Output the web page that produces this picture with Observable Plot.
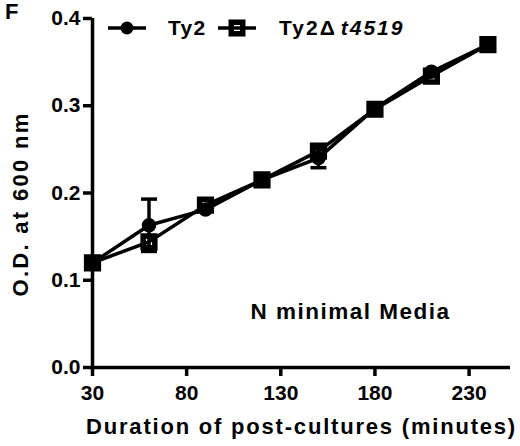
<!DOCTYPE html>
<html><head><meta charset="utf-8">
<script src="https://cdn.jsdelivr.net/npm/d3@7"></script>
<script src="https://cdn.jsdelivr.net/npm/@observablehq/plot@0.6"></script>
<style>
html,body{margin:0;padding:0;background:#fff;}
#wrap{position:relative;width:520px;height:446px;font-family:"Liberation Sans",Arial,sans-serif;font-weight:bold;color:#000;}
#panel{position:absolute;left:5px;top:0px;font-size:22px;line-height:24px;}
.lg{position:absolute;font-size:21px;line-height:24px;letter-spacing:1.3px;white-space:nowrap;}
.lg svg{display:block}
</style>
</head><body>
<div id="wrap">
<div id="chart"></div>
<div id="panel">F</div>
</div>
<script>
const minutes = [30, 60, 90, 120, 150, 180, 210, 240];
const ty2 = [0.120, 0.163, 0.181, 0.215, 0.240, 0.297, 0.339, 0.370];
const ty2Err = [0, 0.030, 0, 0, 0.011, 0, 0, 0];
const mutant = [0.120, 0.144, 0.186, 0.215, 0.248, 0.296, 0.334, 0.370];
const xTicks = [30, 80, 130, 180, 230];
const yTicks = [0.0, 0.1, 0.2, 0.3, 0.4];
const seriesNames = ["Ty2", "Ty2\u0394", "t4519"];
const xTitle = "Duration of post-cultures (minutes)";
const yTitle = "O.D. at 600 nm";
const annotation = "N minimal Media";

const rowsA = minutes.map((m, i) => ({x: m, y: ty2[i], e: ty2Err[i]}));
const rowsB = minutes.map((m, i) => ({x: m, y: mutant[i]}));
const errRows = rowsA.filter(d => d.e > 0);
const caps = errRows.flatMap(d => [{x: d.x, y: d.y + d.e}, {x: d.x, y: d.y - d.e}]);

const capSymbol = {draw(ctx, size) { const w = 8; ctx.moveTo(-w, 0); ctx.lineTo(w, 0); }};
const spaced = ls => (i, s, v, d, c, next) => { const g = next(i, s, v, d, c); g.setAttribute("letter-spacing", ls); return g; };

const chart = Plot.plot({
  width: 520, height: 446,
  marginLeft: 92, marginRight: 10, marginTop: 18, marginBottom: 79,
  style: {fontFamily: "Liberation Sans, Arial, sans-serif", fontWeight: "bold", fontSize: "21px", color: "#000", background: "#fff", overflow: "visible"},
  x: {domain: [30, 252]},
  y: {domain: [0, 0.4]},
  marks: [
    Plot.axisX({ticks: xTicks, tickSize: 9, tickPadding: 9, strokeWidth: 3.5, label: null, tickFormat: d => String(d), fontSize: 21}),
    Plot.axisY({ticks: yTicks, tickSize: 9, tickPadding: 3, strokeWidth: 3.5, label: null, tickFormat: d3.format(".1f"), fontSize: 21}),
    Plot.ruleX([30], {strokeWidth: 3.5}),
    Plot.ruleY([0], {strokeWidth: 3.5}),
    Plot.text([xTitle], {frameAnchor: "bottom", dx: 0, dy: 66, fontSize: 22, render: spaced(1.8)}),
    Plot.text([yTitle], {frameAnchor: "left", textAnchor: "middle", dx: -72, dy: 11, rotate: -90, fontSize: 22, render: spaced(2.3)}),
    Plot.text([annotation], {x: () => 167, y: () => 0.064, fontSize: 22.5, render: spaced(1.5)}),
    Plot.ruleX(errRows, {x: "x", y1: d => d.y - d.e, y2: d => d.y + d.e, strokeWidth: 3.5}),
    Plot.dot(caps, {x: "x", y: "y", symbol: capSymbol, stroke: "black", strokeWidth: 3.5, fill: "none"}),
    Plot.lineY(rowsA, {x: "x", y: "y", strokeWidth: 3.5}),
    Plot.lineY(rowsB, {x: "x", y: "y", strokeWidth: 3.5}),
    Plot.dot(rowsA, {x: "x", y: "y", r: 6.5, fill: "black", stroke: "black"}),
    Plot.dot(rowsB, {x: "x", y: "y", symbol: "square", r: 6.6, fill: "none", stroke: "black", strokeWidth: 5.5})
  ]
});
document.getElementById("chart").appendChild(chart);

// legend (HTML overlay)
const wrap = document.getElementById("wrap");
function glyph(type, left) {
  const s = d3.create("svg").attr("width", 40).attr("height", 24);
  s.append("line").attr("x1", 0).attr("x2", 38).attr("y1", 12).attr("y2", 12).attr("stroke", "black").attr("stroke-width", 3.5);
  if (type === "circle") s.append("circle").attr("cx", 19).attr("cy", 12).attr("r", 6.5).attr("fill", "black");
  else s.append("rect").attr("x", 13.25).attr("y", 6.25).attr("width", 11.5).attr("height", 11.5).attr("fill", "none").attr("stroke", "black").attr("stroke-width", 5.5);
  const d = document.createElement("div");
  d.className = "lg"; d.style.left = left + "px"; d.style.top = "16px";
  d.appendChild(s.node());
  wrap.appendChild(d);
}
function label(html, left, ls) {
  const d = document.createElement("div");
  d.className = "lg"; d.style.left = left + "px"; d.style.top = "16px";
  if (ls) d.style.letterSpacing = ls + "px";
  d.innerHTML = html;
  wrap.appendChild(d);
}
glyph("circle", 108);
label(seriesNames[0], 168);
glyph("square", 218);
label(seriesNames[1] + "<i style='margin-left:4px'>" + seriesNames[2] + "</i>", 279, 2);
</script>
</body></html>
